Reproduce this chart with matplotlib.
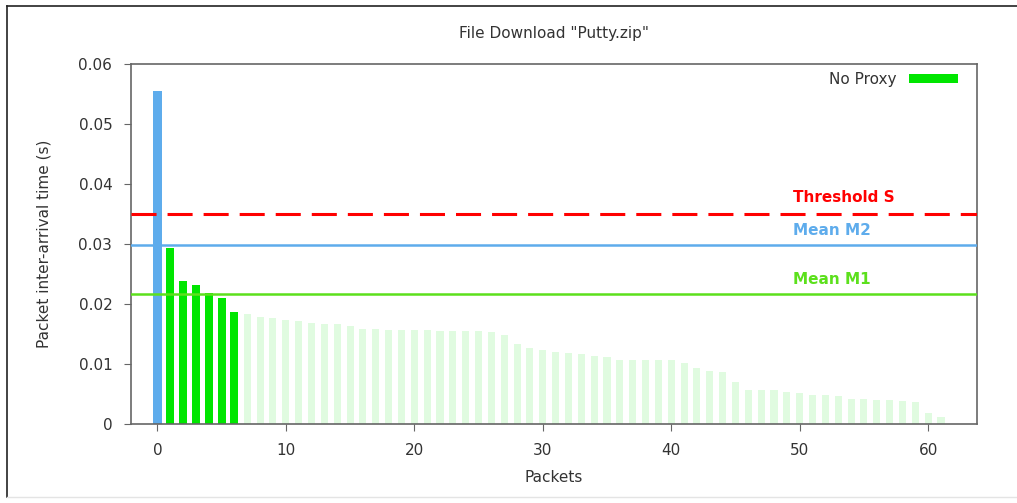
import numpy as np
import matplotlib
matplotlib.use("Agg")
import matplotlib.pyplot as plt
from matplotlib.lines import Line2D

# packet inter-arrival times (s), sorted descending
first_packet = [0.0555]
burst = [0.0293, 0.0238, 0.0232, 0.0218, 0.0210, 0.0187]
rest = [0.0183, 0.0178, 0.0176, 0.0174, 0.0171, 0.0168, 0.0166, 0.0166,
        0.0164, 0.0159, 0.0159, 0.0157, 0.0157, 0.0157, 0.0156, 0.0155,
        0.0155, 0.0155, 0.0155, 0.0154, 0.0148, 0.0134, 0.0127, 0.0124,
        0.0120, 0.0119, 0.0117, 0.0113, 0.0111, 0.0107, 0.0106, 0.0106,
        0.0106, 0.0106, 0.0102, 0.0093, 0.0089, 0.0086, 0.0070, 0.0056,
        0.0056, 0.0056, 0.0053, 0.0051, 0.0049, 0.0049, 0.0046, 0.0042,
        0.0042, 0.0040, 0.0040, 0.0038, 0.0036, 0.0018, 0.0011]

threshold_s = 0.035
mean_m2 = 0.0298
mean_m1 = 0.0217

title = 'File Download "Putty.zip"'
xlabel = "Packets"
ylabel = "Packet inter-arrival time (s)"
legend_label = "No Proxy"

blue = "#5eacec"
green = "#00e600"
light_green = "#e0fbe0"
m1_color = "#5ce01c"
red = "#ff0000"
text_gray = "#333333"

plt.rcParams["font.family"] = "DejaVu Sans"

fig = plt.figure(figsize=(10.17, 5.03), dpi=100)
ax = fig.add_axes([131 / 1017, 1 - 424 / 503, (977 - 131) / 1017, (424 - 64) / 503])

x_first = np.arange(len(first_packet))
x_burst = np.arange(len(burst)) + len(first_packet)
x_rest = np.arange(len(rest)) + len(first_packet) + len(burst)

ax.bar(x_rest, rest, width=0.55, color=light_green, zorder=1)
ax.bar(x_first, first_packet, width=0.7, color=blue, zorder=2)
ax.bar(x_burst, burst, width=0.62, color=green, zorder=2, label=legend_label)

ax.axhline(threshold_s, color=red, lw=2.2, dashes=(8.2, 3.6), zorder=3)
ax.axhline(mean_m2, color=blue, lw=1.8, zorder=3)
ax.axhline(mean_m1, color=m1_color, lw=1.8, zorder=3)

ax.text(49.5, 0.0378, "Threshold S", color=red, fontsize=11, fontweight="bold",
        va="center", ha="left")
ax.text(49.5, 0.0323, "Mean M2", color=blue, fontsize=11, fontweight="bold",
        va="center", ha="left")
ax.text(49.5, 0.0241, "Mean M1", color=m1_color, fontsize=11, fontweight="bold",
        va="center", ha="left")

ax.set_xlim(-2.05, 63.8)
ax.set_ylim(0, 0.06)
ax.set_xticks(np.arange(0, 61, 10))
ax.set_yticks(np.arange(0, 0.061, 0.01))
ax.set_yticklabels(["0", "0.01", "0.02", "0.03", "0.04", "0.05", "0.06"])

for s in ax.spines.values():
    s.set_color("#666666")
    s.set_linewidth(1.2)
ax.tick_params(direction="out", length=5, color="#666666", labelcolor=text_gray,
               labelsize=11)
ax.tick_params(axis="y", pad=8.5)
ax.tick_params(axis="x", pad=8.5)

ax.set_title(title, fontsize=11, color=text_gray, pad=19)
ax.set_xlabel(xlabel, fontsize=11, color=text_gray, labelpad=9)
ax.set_ylabel(ylabel, fontsize=11, color=text_gray, labelpad=19)

ax.legend(loc="upper right", bbox_to_anchor=(0.992, 1.012), frameon=False,
          markerfirst=False, fontsize=11, handlelength=3.2, handleheight=0.6,
          labelcolor=text_gray, borderaxespad=0.4)

# frame around the figure
fig.add_artist(Line2D([7 / 1017, 1], [1 - 6 / 503, 1 - 6 / 503],
                      transform=fig.transFigure, color="#222222", lw=1.2))
fig.add_artist(Line2D([7 / 1017, 7 / 1017], [1 - 6 / 503, 1 - 497 / 503],
                      transform=fig.transFigure, color="#222222", lw=1.2))
fig.add_artist(Line2D([7 / 1017, 1], [1 - 497 / 503, 1 - 497 / 503],
                      transform=fig.transFigure, color="#e4e4e4", lw=1))

fig.savefig("out.png", dpi=100)
